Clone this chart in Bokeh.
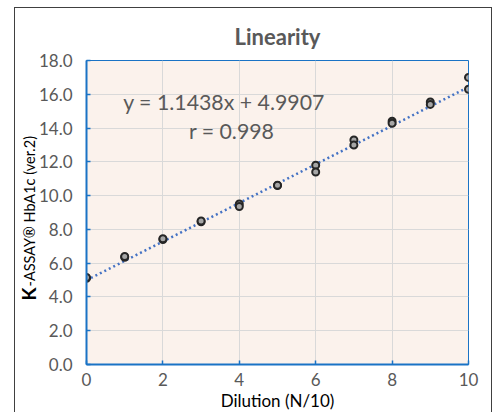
import math
from bokeh.plotting import figure
from bokeh.layouts import row, column
from bokeh.models import Range1d, Label, FixedTicker, CustomJSTickFormatter, Spacer
from bokeh.embed import file_html
from bokeh.resources import INLINE

# data
dilution = [0, 0, 1, 1, 2, 2, 3, 3, 4, 4, 5, 5, 6, 6, 7, 7, 8, 8, 9, 9, 10, 10]
measured = [5.10, 5.15, 6.35, 6.40, 7.40, 7.45, 8.45, 8.50, 9.50, 9.35, 10.60, 10.62,
            11.80, 11.40, 13.30, 13.00, 14.40, 14.28, 15.55, 15.40, 17.00, 16.30]
slope = 1.1438
intercept = 4.9907
r_value = 0.998
x_ticks = [0, 2, 4, 6, 8, 10]
y_ticks = [0, 2, 4, 6, 8, 10, 12, 14, 16, 18]

FONT = "Lato"
GRAY = "#595959"
BLUE = "#1a73c5"

p = figure(width=478, height=405, output_backend="svg", toolbar_location=None,
           x_range=Range1d(0, 10), y_range=Range1d(0, 18),
           min_border_left=71, min_border_right=25, min_border_top=52, min_border_bottom=49)
p.styles = {
    "border-top": "1px solid #404040",
    "border-right": "1px solid #404040",
    "border-left": "1px solid #404040",
}

p.background_fill_color = "#FBF2EC"
p.border_fill_color = "white"
p.outline_line_color = BLUE
p.outline_line_width = 1

p.title.text = "Linearity"
p.title.align = "center"
p.title.text_font = FONT
p.title.text_font_size = "22px"
p.title.text_font_style = "bold"
p.title.text_color = GRAY
p.title.standoff = 22

for ax in (p.xaxis[0], p.yaxis[0]):
    ax.axis_line_color = BLUE
    ax.axis_line_width = 2
    ax.major_tick_line_color = BLUE
    ax.major_tick_line_width = 1.5
    ax.major_tick_in = 4
    ax.major_tick_out = 0
    ax.minor_tick_line_color = None
    ax.major_label_text_font = FONT
    ax.major_label_text_font_size = "17px"
    ax.major_label_text_color = GRAY

p.xaxis.ticker = FixedTicker(ticks=x_ticks)
p.yaxis.ticker = FixedTicker(ticks=y_ticks)
p.yaxis.formatter = CustomJSTickFormatter(code="return tick.toFixed(1);")
p.xaxis.major_label_standoff = 8
p.yaxis.major_label_standoff = 14

p.xaxis.axis_label = "Dilution (N/10)"
p.xaxis.axis_label_text_font = FONT
p.xaxis.axis_label_text_font_size = "17px"
p.xaxis.axis_label_text_font_style = "normal"
p.xaxis.axis_label_text_color = "black"
p.xaxis.axis_label_standoff = 1

p.grid.grid_line_color = "#d9d9d9"
p.grid.grid_line_width = 1

# trend line from fit coefficients
xs = [x_ticks[0], x_ticks[-1]]
ys = [slope * v + intercept for v in xs]
p.line(xs, ys, line_color="#4472C4", line_width=2.5, line_dash="2 3")

p.scatter(dilution, measured, size=7, marker="circle", line_color="#262626",
          line_width=2, fill_color="#a6a6a6")

p.add_layout(Label(x=3.6, y=15.55, text=f"y = {slope}x + {intercept}", text_font=FONT,
                   text_font_size="21.3px", text_color=GRAY, text_align="center",
                   text_baseline="middle"))
p.add_layout(Label(x=3.8, y=13.8, text=f"r = {r_value}", text_font=FONT,
                   text_font_size="21.3px", text_color=GRAY, text_align="center",
                   text_baseline="middle"))

# y axis title: normal part in the left side panel, bold K in the right side panel
p.add_layout(Label(x=11, y=78, x_units="screen", y_units="screen", angle=math.pi / 2,
                   text="-ASSAY\u00ae HbA1c (ver.2)", text_font=FONT, text_font_size="14.5px",
                   text_color="black", text_align="left", text_baseline="middle"), "left")
p.add_layout(Label(x=-440, y=64, x_units="screen", y_units="screen", angle=math.pi / 2,
                   text="K", text_font=FONT, text_font_size="19px", text_font_style="bold",
                   text_color="black", text_align="left", text_baseline="middle"), "right")

layout = column(Spacer(width=10, height=7), row(Spacer(width=14, height=10), p))
open("out.html", "w").write(file_html(layout, INLINE))
